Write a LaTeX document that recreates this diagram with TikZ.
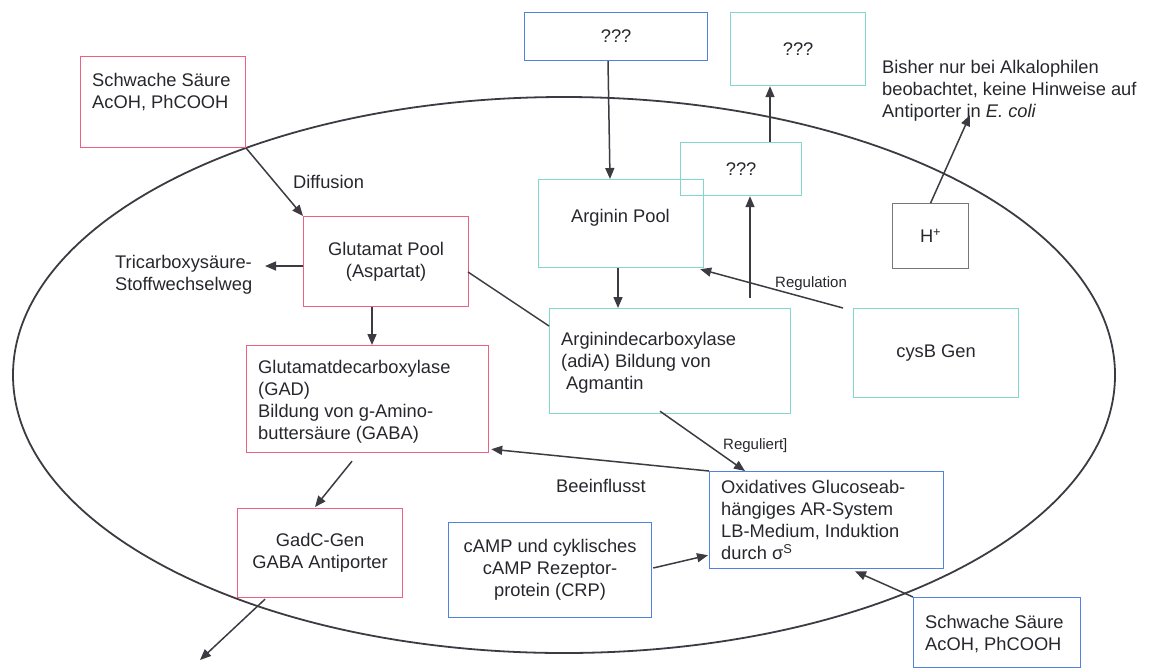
\documentclass[tikz,border=0pt]{standalone}
\usepackage{fontspec}
\setmainfont{Liberation Sans}
\usetikzlibrary{arrows.meta,calc}
\definecolor{pinkc}{RGB}{236,96,128}
\definecolor{bluec}{RGB}{80,130,225}
\definecolor{cyanc}{RGB}{130,215,205}
\definecolor{grayc}{RGB}{120,120,120}
\definecolor{linec}{RGB}{62,58,66}
\definecolor{txtc}{RGB}{40,38,44}
\newcommand{\myfont}{\fontsize{18.3}{22}\selectfont}
\newcommand{\mylblfont}{\fontsize{15}{18}\selectfont}
\begin{document}
\begin{tikzpicture}[x=1pt,y=-1pt,
 box/.style={draw=#1, line width=1.2pt, inner sep=0pt, anchor=north west, align=center, font=\myfont, text=txtc},
 txt/.style={inner sep=0pt, anchor=north west, align=left, font=\myfont, text=txtc},
 lbl/.style={inner sep=0pt, anchor=north west, font=\mylblfont, text=txtc},
 arr/.style={draw=linec, line width=1.5pt, -{Triangle[length=11pt,width=9pt]}},
 ln/.style={draw=linec, line width=1.5pt}]
\useasboundingbox (0,0) rectangle (1150,670);
\draw[line width=1.8pt, linec] (564,375) ellipse [x radius=551pt, y radius=278pt];

\node[box=pinkc, minimum width=165pt, minimum height=91pt] (ss1) at (80,56) {};
\node[txt] (ss1t) at (92,73) {Schwache Säure\\AcOH, PhCOOH};
\node[box=bluec, minimum width=183pt, minimum height=48pt] (q1) at (524,12) {???};
\node[box=cyanc, minimum width=135pt, minimum height=73pt] (q2) at (730,12) {???};
\node[box=cyanc, minimum width=121pt, minimum height=53pt] (q3) at (680,142) {???};
\node[box=cyanc, minimum width=165pt, minimum height=88pt] (ap) at (538,179) {};
\node[txt, anchor=base] (apt) at (620.5,222) {Arginin Pool};
\node[box=pinkc, minimum width=165pt, minimum height=90pt] (gp) at (303,216) {Glutamat Pool\\(Aspartat)};
\node[txt] (tri) at (115,255) {Tricarboxysäure-\\Stoffwechselweg};
\node[box=grayc, minimum width=76pt, minimum height=65pt] (hp) at (892,203) {H\textsuperscript{+}};
\node[txt] (bis) at (882,60) {Bisher nur bei Alkalophilen\\beobachtet, keine Hinweise auf\\Antiporter in \textit{E. coli}};
\node[box=cyanc, minimum width=241pt, minimum height=105pt] (adc) at (549,308) {};
\node[txt] (adct) at (561,332) {Arginindecarboxylase\\(adiA) Bildung von\\\hspace*{5pt}Agmantin};
\node[box=cyanc, minimum width=165pt, minimum height=89pt] (cys) at (853,308) {cysB Gen};
\node[box=pinkc, minimum width=242pt, minimum height=107pt] (gad) at (246,345) {};
\node[txt] (gadt) at (258,360) {Glutamatdecarboxylase\\(GAD)\\Bildung von g-Amino-\\buttersäure (GABA)};
\node[box=pinkc, minimum width=165pt, minimum height=89pt] (gadc) at (237,508) {GadC-Gen\\GABA Antiporter};
\node[box=bluec, minimum width=203pt, minimum height=95pt] (camp) at (448,522) {cAMP und cyklisches\\cAMP Rezeptor-\\protein (CRP)};
\node[box=bluec, minimum width=234pt, minimum height=97pt] (ox) at (709,471) {};
\node[txt] (oxt) at (721,480) {Oxidatives Glucoseab-\\hängiges AR-System\\LB-Medium, Induktion\\durch σ\textsuperscript{S}};
\node[box=bluec, minimum width=167pt, minimum height=70pt] (ss2) at (913,597) {};
\node[txt] (ss2t) at (925,615) {Schwache Säure\\AcOH, PhCOOH};

\node[txt] (dif) at (293,175) {Diffusion};
\node[lbl] (reg) at (775,276) {Regulation};
\node[lbl] (regt) at (723,438) {Reguliert]};
\node[txt] (bee) at (556,479) {Beeinflusst};

\coordinate (tcend) at (265,266);
\coordinate (bistip) at (970,115);
\coordinate (gout) at (200,660);

\draw[arr] (ss1.south east) -- (gp.north west);
\draw[arr] ($(gp.north west)+(0,50)$) -- (tcend);
\draw[arr] ($(gp.south west)+(69,0)$) -- ($(gad.north west)+(126,0)$);
\draw[ln] ($(gp.north west)+(165,56)$) -- ($(adc.north west)+(0,18)$);
\draw[arr] ($(q1.south west)+(84,0)$) -- ($(ap.north west)+(72,0)$);
\draw[arr] ($(ap.south west)+(80,0)$) -- ($(adc.north west)+(69,0)$);
\draw[arr] ($(adc.north west)+(201,-10)$) -- ($(q3.south west)+(70,0)$);
\draw[arr] ($(q3.north west)+(90,0)$) -- ($(q2.south west)+(40,0)$);
\draw[arr] ($(cys.north west)+(-10,0)$) -- ($(ap.south east)+(-4,1)$);
\draw[arr] (hp.north) -- (bistip);
\draw[arr] ($(adc.south west)+(111,-3)$) -- ($(ox.north west)+(36,0)$);
\draw[arr] (ox.north west) -- ($(gad.south east)+(2,-4)$);
\draw[arr] ($(gad.south west)+(106,8)$) -- ($(gadc.north west)+(78,-1)$);
\draw[arr] ($(gadc.south west)+(28,1)$) -- (gout);
\draw[arr] ($(camp.north east)+(1,46)$) -- ($(ox.south west)+(-1,-14)$);
\draw[arr] (ss2.north west) -- ($(ox.south west)+(146,2)$);
\end{tikzpicture}
\end{document}
